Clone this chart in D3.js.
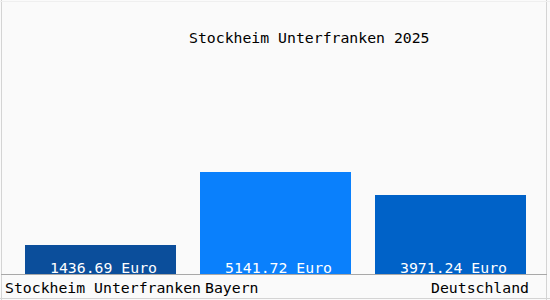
<!DOCTYPE html>
<html>
<head>
<meta charset="utf-8">
<script src="https://cdn.jsdelivr.net/npm/d3@7"></script>
<style>
    body { margin: 0; background: #fafafa; }
    svg { display: block; }
    text { font-family: "DejaVu Sans Mono", monospace; font-size: 14.8px; }
</style>
</head>
<body>
<svg id="chart"></svg>
<script>
var regions = ["Stockheim Unterfranken", "Bayern", "Deutschland"];
var values = [1436.69, 5141.72, 3971.24];
var barColors = ["#0b4e9b", "#0a80fc", "#0062c8"];
var titleText = "Stockheim Unterfranken 2025";

var width = 550, height = 300, baseline = 274;

var svg = d3.select("#chart")
    .attr("width", width)
    .attr("height", height);

svg.append("rect")
    .attr("width", width)
    .attr("height", height)
    .attr("fill", "#fafafa");

// faint frame
svg.append("line").attr("x1", 1.5).attr("x2", 1.5).attr("y1", 0).attr("y2", height)
    .attr("stroke", "#d4d4d4");
svg.append("line").attr("x1", 546.5).attr("x2", 546.5).attr("y1", 0).attr("y2", height)
    .attr("stroke", "#d4d4d4");
svg.append("line").attr("x1", 0).attr("x2", width).attr("y1", 298.5).attr("y2", 298.5)
    .attr("stroke", "#d4d4d4");
svg.append("line").attr("x1", 0).attr("x2", width).attr("y1", 1.5).attr("y2", 1.5)
    .attr("stroke", "#efefef");

var x = d3.scaleBand()
    .domain(regions)
    .range([13, 538])
    .paddingInner(24 / 175)
    .paddingOuter(12 / 175);

var y = d3.scaleLinear()
    .domain([0, 12800])
    .range([baseline, 20]);

svg.selectAll(".bar")
    .data(values)
    .enter().append("rect")
    .attr("class", "bar")
    .attr("x", (d, i) => x(regions[i]))
    .attr("y", d => Math.round(y(d)))
    .attr("width", x.bandwidth())
    .attr("height", d => baseline - Math.round(y(d)))
    .attr("fill", (d, i) => barColors[i]);

// axis line
svg.append("line")
    .attr("x1", 1).attr("x2", 547)
    .attr("y1", baseline + 0.5).attr("y2", baseline + 0.5)
    .attr("stroke", "#a8a8a8");

svg.selectAll(".val")
    .data(values)
    .enter().append("text")
    .attr("class", "val")
    .attr("x", (d, i) => x(regions[i]) + x.bandwidth() / 2 + 3)
    .attr("y", 272.5)
    .attr("text-anchor", "middle")
    .attr("fill", "#ffffff")
    .text(d => d.toFixed(2) + " Euro");

// category labels: first left, last right aligned
svg.selectAll(".cat")
    .data(regions)
    .enter().append("text")
    .attr("class", "cat")
    .attr("x", (d, i) => i == 0 ? x(d) - 20 : i == 1 ? x(d) + 5 : x(d) + x.bandwidth() + 3)
    .attr("y", 293)
    .attr("text-anchor", (d, i) => i == regions.length - 1 ? "end" : "start")
    .attr("fill", "#000")
    .text(d => d);

svg.append("text")
    .attr("x", 189)
    .attr("y", 43)
    .attr("fill", "#000")
    .text(titleText);
</script>
</body>
</html>
